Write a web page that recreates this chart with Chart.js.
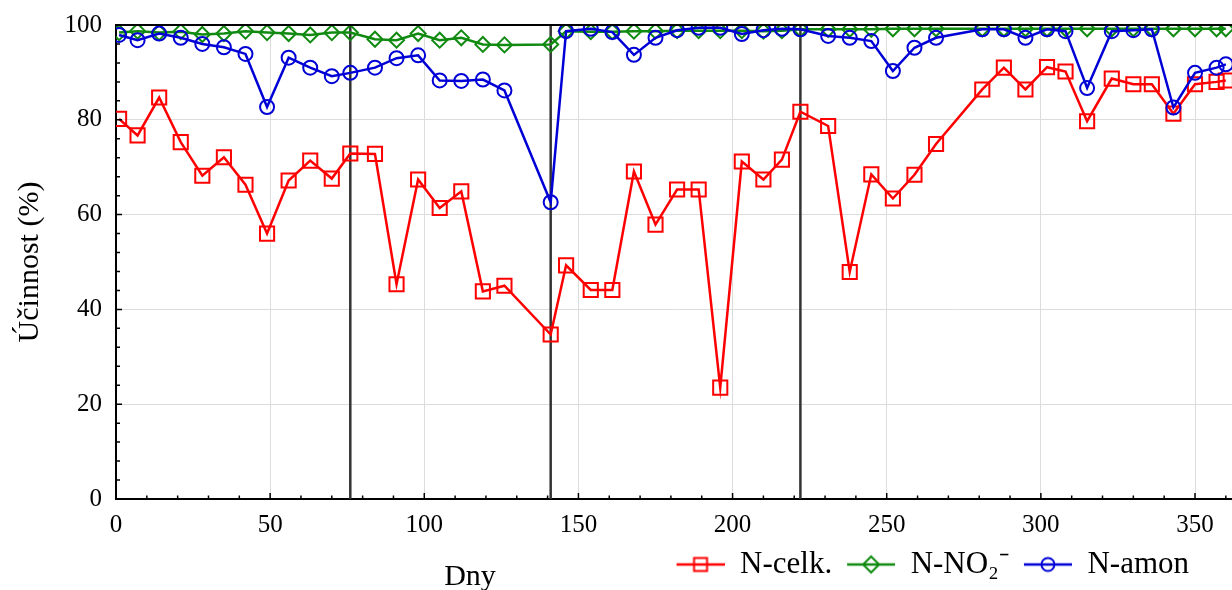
<!DOCTYPE html>
<html>
<head>
<meta charset="utf-8">
<script src="https://cdn.jsdelivr.net/npm/chart.js@4"></script>
<style>
  body { margin: 0; background: #fff; }
  #wrap { position: relative; width: 1232px; height: 590px; }
  #xTitle { position: absolute; left: 420px; top: 557px; width: 100px; text-align: center;
            font: 30px "Liberation Serif", serif; line-height: 36px; color: #000; }
</style>
</head>
<body>
<div id="wrap">
  <canvas id="chart" width="1232" height="590"></canvas>
  <div id="xTitle">Dny</div>
</div>
<script>
// days of sampling
const days = [1, 7, 14, 21, 28, 35, 42, 49, 56, 63, 70, 76, 84, 91, 98, 105, 112, 119, 126, 141,
  146, 154, 161, 168, 175, 182, 189, 196, 203, 210, 216, 222, 231, 238, 245, 252, 259, 266, 281, 288,
  295, 302, 308, 315, 323, 330, 336, 343, 350, 357, 360];

const nCelk = [80.2, 76.7, 84.7, 75.3, 68.2, 72.1, 66.3, 56.0, 67.2, 71.4, 67.6, 72.9, 72.8, 45.3, 67.4, 61.4, 64.9, 43.8, 45.0, 34.7,
  49.3, 44.1, 44.1, 69.1, 57.9, 65.3, 65.3, 23.5, 71.2, 67.4, 71.6, 81.7, 78.7, 47.9, 68.5, 63.4, 68.4, 74.9, 86.4, 91.0,
  86.4, 91.1, 90.2, 79.7, 88.7, 87.5, 87.5, 81.3, 87.5, 88.0, 88.3];

const nNO2 = [98.4, 98.7, 98.4, 98.6, 98.0, 98.2, 98.7, 98.4, 98.2, 97.9, 98.4, 98.4, 97.0, 96.8, 98.2, 96.8, 97.3, 95.9, 95.8, 95.9,
  98.7, 98.6, 98.6, 98.7, 98.7, 98.8, 98.8, 98.8, 98.8, 98.7, 98.8, 99.1, 99.1, 99.1, 99.1, 99.2, 99.2, 99.2, 99.2, 99.2,
  99.2, 99.2, 99.2, 99.2, 99.2, 99.2, 99.2, 99.2, 99.2, 99.2, 99.2];

const nAmon = [97.9, 96.8, 98.2, 97.3, 96.0, 95.3, 93.9, 82.7, 93.1, 91.0, 89.2, 89.9, 91.0, 93.0, 93.6, 88.3, 88.2, 88.5, 86.2, 62.6,
  98.7, 99.2, 98.5, 93.7, 97.3, 98.9, 99.4, 99.4, 98.1, 98.9, 99.2, 99.1, 97.7, 97.3, 96.6, 90.3, 95.2, 97.3, 99.1, 99.1,
  97.3, 99.1, 98.7, 86.7, 98.7, 98.9, 99.1, 82.6, 89.9, 91.0, 91.7];

// phase boundaries
const phases = [76, 141, 222];

const seriesNames = ['N-celk.', 'N-NO\u2082\u207B', 'N-amon'];
const seriesColors = ['#ff0000', '#108a10', '#0000d6'];
const seriesStyles = ['rect', 'rectRot', 'circle'];
const seriesRadius = [10, 7.5, 7];

const toXY = vals => vals.map((v, i) => ({ x: days[i], y: v }));

const datasets = [nCelk, nNO2, nAmon].map((vals, i) => ({
  label: seriesNames[i],
  data: toXY(vals),
  borderColor: seriesColors[i],
  borderWidth: 2.5,
  pointStyle: seriesStyles[i],
  pointRadius: seriesRadius[i],
  pointBorderWidth: 2,
  pointBorderColor: seriesColors[i],
  pointBackgroundColor: 'rgba(0,0,0,0)',
  order: 3 - i
}));

phases.forEach(d => {
  datasets.push({
    label: '',
    data: [{ x: d, y: 0 }, { x: d, y: 100 }],
    borderColor: '#333',
    borderWidth: 2.5,
    pointRadius: 0,
    order: 10
  });
});

// legend icons: line with marker in the middle
function makeIcon(color, style) {
  const c = document.createElement('canvas');
  c.width = 60; c.height = 26;
  const g = c.getContext('2d');
  g.strokeStyle = color;
  g.lineWidth = 2.5;
  g.beginPath(); g.moveTo(12, 13); g.lineTo(60, 13); g.stroke();
  g.lineWidth = 2;
  g.beginPath();
  if (style === 'rect') g.rect(29.5, 6.5, 13, 13);
  else if (style === 'rectRot') { g.moveTo(28, 13); g.lineTo(36, 5); g.lineTo(44, 13); g.lineTo(36, 21); g.closePath(); }
  else g.arc(36, 13, 6.5, 0, Math.PI * 2);
  g.stroke();
  return c;
}
const icons = seriesColors.map((c, i) => makeIcon(c, seriesStyles[i]));

const frame = {
  id: 'frame',
  afterLayout(chart) {
    chart.legend.left -= 40;
    chart.legend.right -= 40;
  },
  afterDraw(chart) {
    const { ctx, chartArea: a, scales: { x, y } } = chart;
    ctx.save();
    ctx.strokeStyle = '#000';
    ctx.lineWidth = 2;
    ctx.beginPath();
    ctx.moveTo(a.left, a.top); ctx.lineTo(a.right, a.top);
    ctx.stroke();
    ctx.lineWidth = 1.5;
    ctx.beginPath();
    for (let v = 10; v <= 360; v += 10) {
      const px = x.getPixelForValue(v);
      const len = v % 50 === 0 ? 6 : 3.5;
      ctx.moveTo(px, a.bottom); ctx.lineTo(px, a.bottom - len);
    }
    for (let v = 4; v < 100; v += 4) {
      const py = y.getPixelForValue(v);
      const len = v % 20 === 0 ? 6 : 4;
      ctx.moveTo(a.left, py); ctx.lineTo(a.left + len, py);
    }
    ctx.stroke();
    ctx.restore();
  }
};

const serif = '"Liberation Serif", "Times New Roman", serif';

new Chart(document.getElementById('chart'), {
  type: 'line',
  data: { datasets: datasets },
  options: {
    responsive: false,
    animation: false,
    layout: { autoPadding: false, padding: { top: 25, left: 0, right: 0, bottom: 0 } },
    plugins: {
      tooltip: { enabled: false },
      legend: {
        position: 'bottom',
        align: 'end',
        labels: {
          usePointStyle: true,
          pointStyleWidth: 60,
          padding: 3,
          color: '#000',
          font: { family: serif, size: 31 },
          generateLabels: () => seriesNames.map((n, i) => ({
            text: n,
            fillStyle: seriesColors[i],
            strokeStyle: seriesColors[i],
            lineWidth: 0,
            pointStyle: icons[i],
            datasetIndex: i,
            hidden: false
          }))
        }
      }
    },
    scales: {
      x: {
        type: 'linear',
        min: 0,
        max: 362,
        afterFit: s => { s.height = 47; s.paddingLeft = 0; s.paddingRight = 0; },
        border: { color: '#000', width: 2 },
        grid: { color: '#dcdcdc', lineWidth: 1, drawTicks: false },
        ticks: {
          stepSize: 50,
          includeBounds: false,
          padding: 11,
          color: '#000',
          font: { family: serif, size: 25 },
          maxRotation: 0
        }
      },
      y: {
        min: 0,
        max: 100,
        afterFit: s => { s.width = 116; s.paddingTop = 0; s.paddingBottom = 0; },
        border: { color: '#000', width: 2 },
        grid: { color: '#dcdcdc', lineWidth: 1, drawTicks: false },
        ticks: {
          stepSize: 20,
          padding: 14,
          color: '#000',
          font: { family: serif, size: 25 }
        },
        title: {
          display: true,
          text: 'Účinnost (%)',
          color: '#000',
          font: { family: serif, size: 30 },
          padding: { top: 12, bottom: 0 }
        }
      }
    }
  },
  plugins: [frame]
});
</script>
</body>
</html>
